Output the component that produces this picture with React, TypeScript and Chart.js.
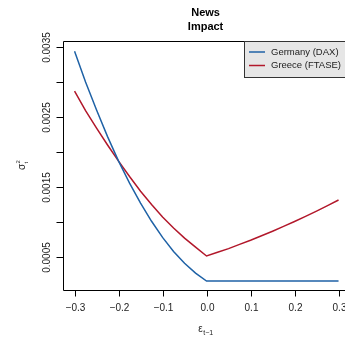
import { useEffect, useRef } from "react";
import { Chart, registerables } from "chart.js";
Chart.register(...registerables);

// ---- data ----
const shocks = [
  -0.3, -0.275, -0.25, -0.225, -0.2, -0.175, -0.15, -0.125, -0.1, -0.075, -0.05, -0.025, 0,
  0.025, 0.05, 0.075, 0.1, 0.125, 0.15, 0.175, 0.2, 0.225, 0.25, 0.275, 0.3,
];
const germany = [
  0.00344, 0.003, 0.0026, 0.00222, 0.00187, 0.001555, 0.00127, 0.00101, 0.00078, 0.00058, 0.00041, 0.00027, 0.000157,
  0.000157, 0.000157, 0.000157, 0.000157, 0.000157, 0.000157, 0.000157, 0.000157, 0.000157, 0.000157, 0.000157, 0.000157,
];
const greece = [
  0.00287, 0.00259, 0.00234, 0.0021, 0.00187, 0.00165, 0.00144, 0.00125, 0.00107, 0.000915, 0.00077, 0.00064, 0.000514,
  0.000567, 0.00062, 0.000681, 0.00074, 0.000803, 0.000868, 0.000937, 0.001007, 0.00108, 0.001156, 0.001234, 0.001314,
];
const seriesLabels = ["Germany (DAX)", "Greece (FTASE)"];
const xTicks = [-0.3, -0.2, -0.1, 0, 0.1, 0.2, 0.3];
const xTickLabels = ["\u22120.3", "\u22120.2", "\u22120.1", "0.0", "0.1", "0.2", "0.3"];
const yTicks = [0.0005, 0.001, 0.0015, 0.002, 0.0025, 0.003, 0.0035];
const yTickLabels = ["0.0005", "", "0.0015", "", "0.0025", "", "0.0035"];
const titleLines = ["News", "Impact"];

const X_MIN = -0.324;
const X_MAX = 0.324;
const Y_MIN = 0.0000257;
const Y_MAX = 0.0035713;

const W = 352;
const H = 337;
const FONT = '"Liberation Sans", Arial, Helvetica, sans-serif';
const BLUE = "#1f62a6";
const RED = "#b2182b";

const rBase = {
  id: "rBase",
  afterDraw(chart: any) {
    const { ctx, chartArea: a, scales } = chart;
    const xs = scales.x;
    const ys = scales.y;
    ctx.save();
    ctx.strokeStyle = "#000";
    ctx.lineWidth = 1;
    const L = Math.round(a.left) - 0.5;
    const T = Math.round(a.top) - 0.5;
    const B = Math.round(a.bottom) + 0.5;
    const R = Math.round(a.right) + 0.5;
    ctx.beginPath();
    ctx.moveTo(L, T);
    ctx.lineTo(R, T);
    ctx.lineTo(R, B);
    ctx.lineTo(L, B);
    ctx.closePath();
    ctx.stroke();

    // x ticks
    ctx.fillStyle = "#222";
    ctx.font = `10px ${FONT}`;
    ctx.textAlign = "center";
    ctx.textBaseline = "middle";
    xTicks.forEach((v, i) => {
      const px = Math.round(xs.getPixelForValue(v)) + 0.5;
      ctx.beginPath();
      ctx.moveTo(px, B);
      ctx.lineTo(px, B + 6);
      ctx.stroke();
      ctx.fillText(xTickLabels[i], px, B + 18);
    });

    // y ticks
    yTicks.forEach((v, i) => {
      const py = Math.round(ys.getPixelForValue(v)) + 0.5;
      ctx.beginPath();
      ctx.moveTo(L - 7, py);
      ctx.lineTo(L, py);
      ctx.stroke();
      if (yTickLabels[i]) {
        ctx.save();
        ctx.translate(47, py);
        ctx.rotate(-Math.PI / 2);
        ctx.fillText(yTickLabels[i], 0, 0);
        ctx.restore();
      }
    });

    // title
    const cx = (a.left + a.right) / 2 - 1;
    ctx.fillStyle = "#000";
    ctx.font = `bold 11px ${FONT}`;
    ctx.fillText(titleLines[0], cx, 12.5);
    ctx.fillText(titleLines[1], cx, 27);

    // x axis title: epsilon_{t-1}
    ctx.fillStyle = "#222";
    ctx.textAlign = "left";
    ctx.textBaseline = "alphabetic";
    const eps = "\u03b5";
    const sub = "t\u22121";
    ctx.font = `10px ${FONT}`;
    const we = ctx.measureText(eps).width;
    ctx.font = `7px ${FONT}`;
    const ws = ctx.measureText(sub).width;
    const x0 = cx - (we + ws) / 2;
    ctx.font = `10px ${FONT}`;
    ctx.fillText(eps, x0, 332);
    ctx.font = `7px ${FONT}`;
    ctx.fillText(sub, x0 + we + 0.5, 335);

    // y axis title: sigma_t^2
    ctx.save();
    ctx.translate(22, 165);
    ctx.rotate(-Math.PI / 2);
    ctx.font = `10px ${FONT}`;
    const sg = "\u03c3";
    const wsg = ctx.measureText(sg).width;
    const sx = -(wsg + 4) / 2;
    ctx.fillText(sg, sx, 3);
    ctx.font = `6px ${FONT}`;
    ctx.fillText("2", sx + wsg + 0.5, -2);
    ctx.fillText("t", sx + wsg + 0.5, 6);
    ctx.restore();

    // legend
    const lx = 244.5;
    const ly = 41.5;
    const lb = 77.5;
    ctx.fillStyle = "#e6e6e6";
    ctx.fillRect(lx, ly, W - lx + 5, lb - ly);
    ctx.strokeStyle = "#333";
    ctx.strokeRect(lx, ly, W - lx + 5, lb - ly);
    const rows = [52, 65.5];
    const cols = [BLUE, RED];
    ctx.font = `9.5px ${FONT}`;
    ctx.textBaseline = "middle";
    rows.forEach((ry, i) => {
      ctx.strokeStyle = cols[i];
      ctx.lineWidth = 1.5;
      ctx.beginPath();
      ctx.moveTo(249, ry);
      ctx.lineTo(265, ry);
      ctx.stroke();
      ctx.fillStyle = "#222";
      ctx.fillText(chart.data.datasets[i].label, 271, ry);
    });
    ctx.restore();
  },
};

export default function App() {
  const ref = useRef<HTMLCanvasElement>(null);
  useEffect(() => {
    const canvas = ref.current!;
    const chart = new Chart(canvas, {
      type: "line",
      data: {
        datasets: [
          {
            label: seriesLabels[0],
            data: shocks.map((x, i) => ({ x, y: germany[i] })),
            borderColor: BLUE,
            borderWidth: 1.5,
            pointRadius: 0,
            tension: 0,
            fill: false,
          },
          {
            label: seriesLabels[1],
            data: shocks.map((x, i) => ({ x, y: greece[i] })),
            borderColor: RED,
            borderWidth: 1.5,
            pointRadius: 0,
            tension: 0,
            fill: false,
          },
        ],
      },
      options: {
        responsive: false,
        maintainAspectRatio: false,
        animation: false,
        events: [],
        layout: { padding: { left: 64, top: 42, right: W - 349.1, bottom: H - 290.2 } },
        plugins: {
          legend: { display: false },
          title: { display: false },
          tooltip: { enabled: false },
        },
        scales: {
          x: { type: "linear", min: X_MIN, max: X_MAX, display: false },
          y: { type: "linear", min: Y_MIN, max: Y_MAX, display: false },
        },
      },
      plugins: [rBase],
    });
    return () => chart.destroy();
  }, []);
  return (
    <div
      style={{
        position: "fixed",
        left: 0,
        top: 0,
        width: 345,
        height: 337,
        overflow: "hidden",
        background: "#fff",
      }}
    >
      <canvas ref={ref} width={W} height={H} style={{ width: W, height: H, display: "block" }} />
    </div>
  );
}
